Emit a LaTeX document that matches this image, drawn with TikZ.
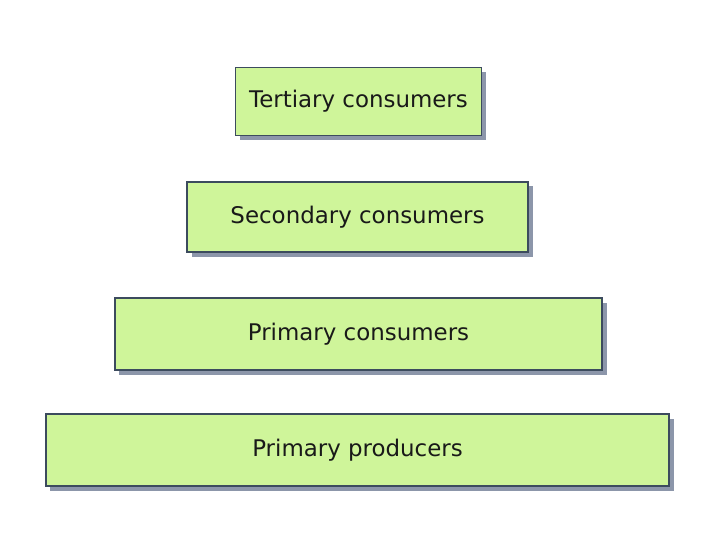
\documentclass[tikz,border=0pt]{standalone}
\usepackage{fontspec}
\setmainfont{DejaVu Sans}
\usetikzlibrary{shadows}
\definecolor{boxfill}{HTML}{CFF59A}
\definecolor{boxline}{HTML}{3C4B5E}
\definecolor{shadowc}{HTML}{8C96AA}
\tikzset{
  level/.style={draw=boxline, line width=1.3bp, fill=boxfill, inner sep=0pt,
    font=\fontsize{23}{26}\selectfont, text=black!90,
    drop shadow={shadow xshift=4.5bp, shadow yshift=-4.5bp, fill=shadowc, opacity=1}}
}
\begin{document}
\begin{tikzpicture}[x=1bp,y=-1bp]
\useasboundingbox[fill=white] (0,0) rectangle (720,540);
\node[level, minimum width=246bp, minimum height=68bp] (t) at (358.5,101.5) {Tertiary consumers};
\node[level, minimum width=341bp, minimum height=70bp] (s) at (357.5,217) {Secondary consumers};
\node[level, minimum width=487bp, minimum height=72bp] (pc) at (358.5,334) {Primary consumers};
\node[level, minimum width=623bp, minimum height=72bp] (pp) at (357.5,450) {Primary producers};
\end{tikzpicture}
\end{document}
